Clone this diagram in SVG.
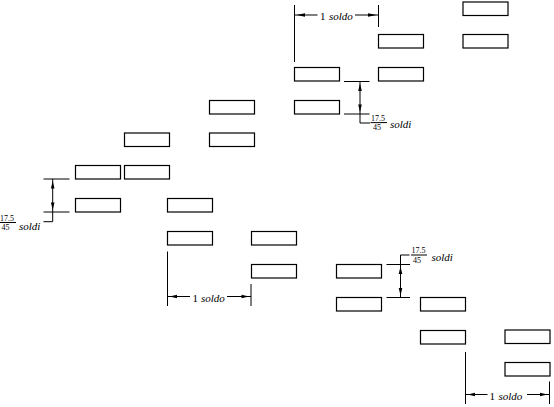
<svg xmlns="http://www.w3.org/2000/svg" width="554" height="407" viewBox="0 0 554 407">
<style>
.b{fill:#fff;stroke:#000;stroke-width:1.2}
.l{stroke:#000;stroke-width:1;fill:none}
.a{fill:#000;stroke:none}
text{font-family:"Liberation Serif","DejaVu Serif","Times New Roman",serif;fill:#000}
.n{font-size:11px}
.i{font-style:italic;font-size:11px}
.f{font-size:8px}
</style>
<defs>
<rect id="r" width="45" height="13.5" class="b"/>
</defs>
<g id="blocks">
<g id="b1"><use href="#r" x="463" y="2"/></g>
<g id="b2"><use href="#r" x="378.5" y="34.5"/></g>
<g id="b3"><use href="#r" x="463" y="34.5"/></g>
<g id="b4"><use href="#r" x="294.5" y="67.5"/></g>
<g id="b5"><use href="#r" x="378.5" y="67.5"/></g>
<g id="b6"><use href="#r" x="209.5" y="100.5"/></g>
<g id="b7"><use href="#r" x="294.5" y="100.5"/></g>
<g id="b8"><use href="#r" x="124.5" y="133"/></g>
<g id="b9"><use href="#r" x="209.5" y="133"/></g>
<g id="b10"><use href="#r" x="75.5" y="165.5"/></g>
<g id="b11"><use href="#r" x="124.5" y="165.5"/></g>
<g id="b12"><use href="#r" x="75.5" y="198.5"/></g>
<g id="b13"><use href="#r" x="167.5" y="198.5"/></g>
<g id="b14"><use href="#r" x="167.5" y="231.5"/></g>
<g id="b15"><use href="#r" x="251.5" y="231.5"/></g>
<g id="b16"><use href="#r" x="251.5" y="264.5"/></g>
<g id="b17"><use href="#r" x="336.5" y="264.5"/></g>
<g id="b18"><use href="#r" x="336.5" y="297.5"/></g>
<g id="b19"><use href="#r" x="420.5" y="297.5"/></g>
<g id="b20"><use href="#r" x="420.5" y="330.5"/></g>
<g id="b21"><use href="#r" x="505" y="330"/></g>
<g id="b22"><use href="#r" x="505" y="362.5"/></g>
</g>
<g id="connectors">
<g id="hd1">
<path class="l" d="M294.5 5V62M378.5 5V27M294.5 15H317.5M355 15H378.5"/>
<path class="a" d="M296.5 15L305 13.2V16.8ZM376.5 15L368 13.2V16.8Z"/>
<text class="n" x="320" y="20">1</text><text class="i" x="329" y="20">soldo</text>
</g>
<g id="hd2">
<path class="l" d="M167.5 251.5V306M251 284V306M167.5 296.5H190M227 296.5H251"/>
<path class="a" d="M169.5 296.5L177 294.7V298.3ZM249 296.5L241.5 294.7V298.3Z"/>
<text class="n" x="192.5" y="301.5">1</text><text class="i" x="201" y="301.5">soldo</text>
</g>
<g id="hd3">
<path class="l" d="M465.5 352V404M549.5 381.5V404M465.5 394.5H487.5M527 394.5H549.5"/>
<path class="a" d="M467.5 394.5L475 392.7V396.3ZM547.5 394.5L540 392.7V396.3Z"/>
<text class="n" x="489.5" y="399.5">1</text><text class="i" x="498.5" y="399.5">soldo</text>
</g>
<g id="vd1">
<path class="l" d="M344 81.5H369.5M344 114H369.5M360 81.5V123H370"/>
<path class="a" d="M360 83.5L358.2 91H361.8ZM360 112L358.2 104.5H361.8Z"/>
<text class="f" x="371" y="121">17.5</text>
<path class="l" d="M370.5 122.6H387"/>
<text class="f" x="373" y="130">45</text>
<text class="i" x="390" y="127.5">soldi</text>
</g>
<g id="vd2">
<path class="l" d="M43.5 179H69.5M43.5 212H69.5M52.7 179V221.7H43.5"/>
<path class="a" d="M52.7 181L50.9 188.5H54.5ZM52.7 210L50.9 202.5H54.5Z"/>
<text class="f" x="0" y="220.8">17.5</text>
<path class="l" d="M0 222.5H16"/>
<text class="f" x="1.5" y="230">45</text>
<text class="i" x="19" y="229.5">soldi</text>
</g>
<g id="vd3">
<path class="l" d="M386.5 264.5H410M386.5 297.5H410M400.5 297.5V255H409.5"/>
<path class="a" d="M400.5 266.5L398.7 274H402.3ZM400.5 295.5L398.7 288H402.3Z"/>
<text class="f" x="411.5" y="253.3">17.5</text>
<path class="l" d="M411 255H427"/>
<text class="f" x="413" y="262.5">45</text>
<text class="i" x="431.5" y="261">soldi</text>
</g>
</g>
</svg>
